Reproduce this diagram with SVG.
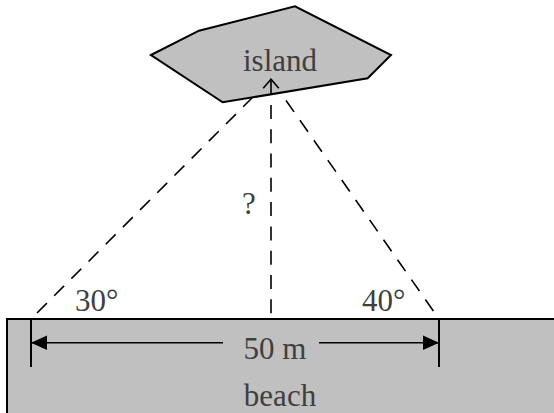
<svg xmlns="http://www.w3.org/2000/svg" width="554" height="413" viewBox="0 0 554 413">
  <style>
    .lbl { font-family: "Liberation Serif", "Times New Roman", serif; font-size: 31px; fill: #3f3f3f; }
    .shape { fill: #c0c0c0; stroke: #000; stroke-width: 2; stroke-linejoin: miter; }
    .dash { fill: none; stroke: #000; stroke-width: 1.6; stroke-dasharray: 14 10.3; }
    .dim { fill: none; stroke: #000; stroke-width: 1.6; }
    .tick { fill: none; stroke: #000; stroke-width: 2; }
  </style>
  <defs>
    <marker id="openArrow" markerUnits="userSpaceOnUse" markerWidth="20" markerHeight="20" refX="0" refY="0" viewBox="-12 -10 14 20" orient="auto-start-reverse" overflow="visible">
      <path d="M-9,-7.8 L0,0 L-9,7.8" fill="none" stroke="#000" stroke-width="1.6"/>
    </marker>
    <marker id="solidArrow" markerUnits="userSpaceOnUse" markerWidth="20" markerHeight="20" refX="0" refY="0" viewBox="-18 -9 20 18" orient="auto-start-reverse" overflow="visible">
      <path d="M0,0 L-16,-7.3 L-16,7.3 Z" fill="#000"/>
    </marker>
  </defs>

  <g id="island">
    <polygon class="shape" points="151,55 199,30.7 295,6.3 391,55 367.7,78.3 222.7,102.3"/>
    <text class="lbl" x="280" y="70.5" text-anchor="middle">island</text>
  </g>

  <g id="beach">
    <rect class="shape" x="7" y="319" width="560" height="110"/>
    <text class="lbl" x="280" y="405.5" text-anchor="middle">beach</text>
  </g>

  <g id="connectors">
    <line class="dash" x1="31" y1="319" x2="252.7" y2="97.3" style="stroke-dashoffset:15.8"/>
    <line class="dash" x1="439" y1="319" x2="280.6" y2="92.7" style="stroke-dashoffset:14.5"/>
    <line class="dash" x1="271" y1="79.3" x2="271" y2="319" style="stroke-dashoffset:-1.3" marker-start="url(#openArrow)"/>
    <line class="tick" x1="31" y1="319" x2="31" y2="367"/>
    <line class="tick" x1="439" y1="319" x2="439" y2="367"/>
    <line class="dim" x1="31" y1="342.7" x2="223" y2="342.7" marker-start="url(#solidArrow)"/>
    <line class="dim" x1="319" y1="342.7" x2="439" y2="342.7" marker-end="url(#solidArrow)"/>
  </g>

  <g id="labels">
    <text class="lbl" x="249" y="214" text-anchor="middle">?</text>
    <text class="lbl" x="75" y="310.5">30°</text>
    <text class="lbl" x="362" y="310.5">40°</text>
    <text class="lbl" x="275" y="359" text-anchor="middle">50 m</text>
  </g>
</svg>
